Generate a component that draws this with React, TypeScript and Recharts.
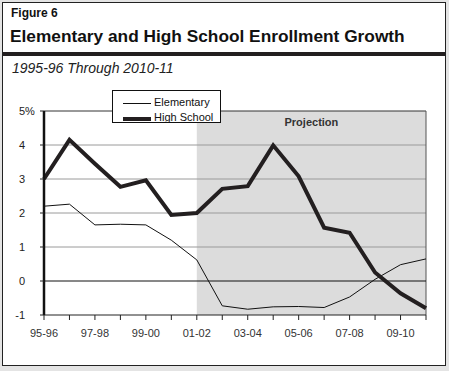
import { LineChart, Line, XAxis, YAxis, ReferenceArea, ReferenceLine } from 'recharts';

const years = [
  '95-96', '96-97', '97-98', '98-99', '99-00', '00-01', '01-02', '02-03',
  '03-04', '04-05', '05-06', '06-07', '07-08', '08-09', '09-10', '10-11',
];
const elementary = [2.2, 2.26, 1.65, 1.67, 1.65, 1.2, 0.62, -0.73, -0.83, -0.76, -0.75, -0.78, -0.47, 0.05, 0.48, 0.65];
const highSchool = [3.0, 4.15, 3.45, 2.77, 2.96, 1.94, 2.0, 2.71, 2.79, 3.99, 3.08, 1.57, 1.42, 0.25, -0.36, -0.8];
const yTicks = [-1, 0, 1, 2, 3, 4, 5];
const gridValues = [1, 2, 3, 4];

const data = years.map((year, i) => ({ year, elementary: elementary[i], highSchool: highSchool[i] }));

const font = '"Liberation Sans", Arial, sans-serif';

function XTick({ x, y, payload, index }: any) {
  if (index % 2 !== 0) return null;
  return (
    <text x={x} y={y + 15} textAnchor="middle" fontSize={11} fontFamily={font} fill="#333">
      {payload.value}
    </text>
  );
}

// numbers right-aligned, with the % sign hanging after the top one
function YTick({ x, y, payload }: any) {
  const v = payload.value;
  const right = x - 13;
  return (
    <g>
      <text x={right} y={y + 4} textAnchor="end" fontSize={11} fontFamily={font} fill="#222">
        {String(v)}
      </text>
      {v === 5 && (
        <text x={right} y={y + 4} textAnchor="start" fontSize={11} fontFamily={font} fill="#222">
          %
        </text>
      )}
    </g>
  );
}

export default function App() {
  return (
    <div style={{ position: 'absolute', left: 0, top: 0, width: 449, height: 371, background: '#e4e4e4', fontFamily: font }}>
      <div style={{ position: 'absolute', left: 2, top: 2, width: 442, height: 362, background: '#fff', border: '1px solid #222' }} />
      <div style={{ position: 'absolute', left: 3, top: 52, width: 442, height: 4, background: '#231f20' }} />
      <div style={{ position: 'absolute', left: 11, top: 6, fontSize: 12, fontWeight: 'bold', color: '#111' }}>Figure 6</div>
      <div style={{ position: 'absolute', left: 10, top: 26, fontSize: 17.3, fontWeight: 'bold', color: '#111', whiteSpace: 'nowrap' }}>
        Elementary and High School Enrollment Growth
      </div>
      <div style={{ position: 'absolute', left: 12, top: 60, fontSize: 14, fontStyle: 'italic', color: '#222', whiteSpace: 'nowrap' }}>
        1995-96 Through 2010-11
      </div>
      <div style={{ position: 'absolute', left: 0, top: 0 }}>
        <LineChart width={449} height={371} data={data} margin={{ top: 111, right: 23, bottom: 26, left: 0 }}>
          <ReferenceArea
            x1="01-02"
            x2="10-11"
            y1={-1}
            y2={5}
            fill="#dcdcdc"
            fillOpacity={1}
            stroke="none"
            label={{ value: 'Projection', position: 'insideTop', offset: 7, fontSize: 11, fontWeight: 'bold', fill: '#333', fontFamily: font }}
          />
          {gridValues.map(v => (
            <ReferenceLine key={v} y={v} stroke="#9a9a9a" strokeWidth={1} />
          ))}
          <ReferenceLine y={5} stroke="#333" strokeWidth={1} />
          <ReferenceLine x="10-11" stroke="#555" strokeWidth={1} />
          <ReferenceLine y={0} stroke="#111" strokeWidth={1} />
          <XAxis
            dataKey="year"
            interval={0}
            tick={<XTick />}
            tickLine={{ stroke: '#222' }}
            tickSize={5}
            axisLine={{ stroke: '#222' }}
            height={30}
          />
          <YAxis
            domain={[-1, 5]}
            ticks={yTicks}
            width={44}
            tickSize={4}
            tickLine={{ stroke: '#222' }}
            axisLine={{ stroke: '#111', strokeWidth: 2.5 }}
            tick={<YTick />}
          />
          <Line dataKey="elementary" stroke="#111" strokeWidth={1} dot={false} isAnimationActive={false} />
          <Line dataKey="highSchool" stroke="#231f20" strokeWidth={4} dot={false} isAnimationActive={false} />
        </LineChart>
      </div>
      <div style={{ position: 'absolute', left: 112, top: 90, width: 107, height: 31, background: '#fff', border: '1px solid #111' }}>
        <div style={{ position: 'absolute', left: 10, top: 12, width: 28, height: 1, background: '#111' }} />
        <div style={{ position: 'absolute', left: 10, top: 26, width: 28, height: 4, background: '#231f20' }} />
        <div style={{ position: 'absolute', left: 41, top: 5, fontSize: 11, color: '#111', whiteSpace: 'nowrap' }}>Elementary</div>
        <div style={{ position: 'absolute', left: 41, top: 20, fontSize: 11, color: '#111', whiteSpace: 'nowrap' }}>High School</div>
      </div>
    </div>
  );
}
